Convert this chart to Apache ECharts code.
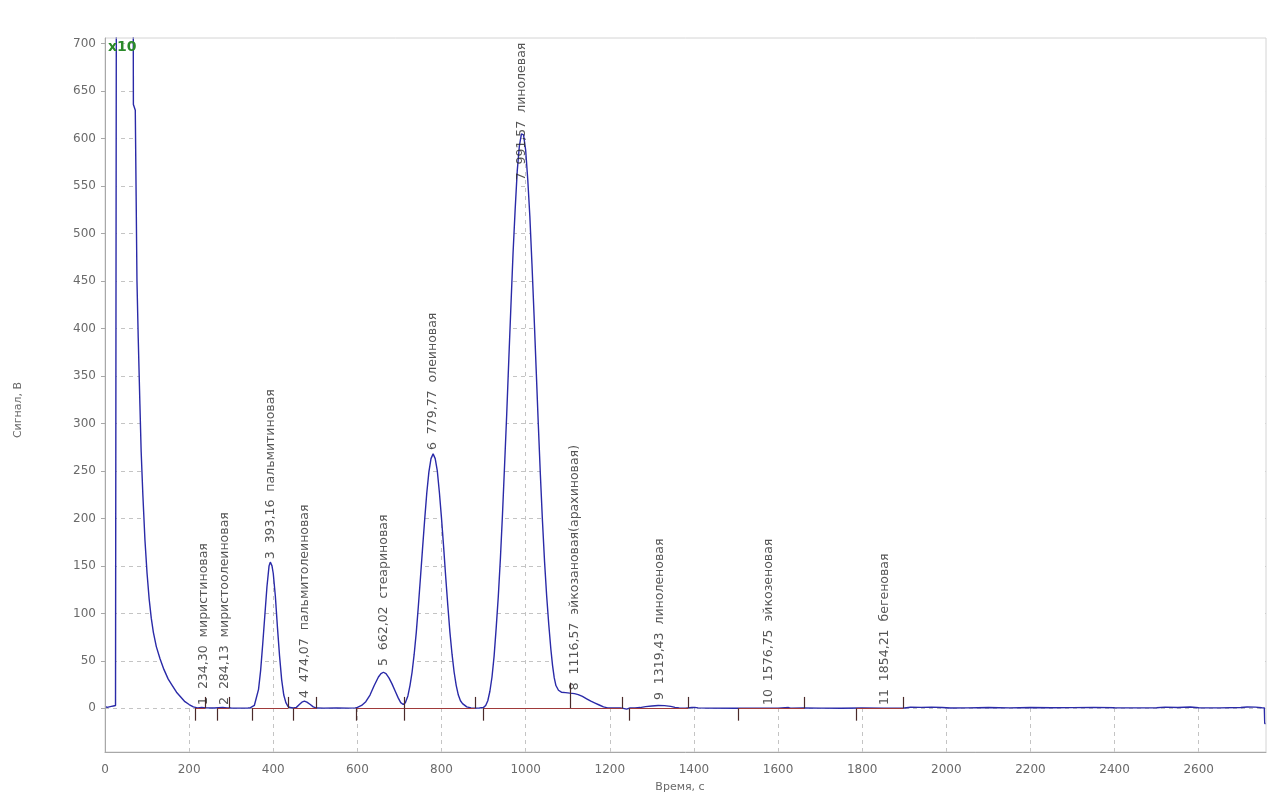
<!DOCTYPE html>
<html><head><meta charset="utf-8">
<script src="https://cdn.jsdelivr.net/npm/echarts@6/dist/echarts.min.js"></script>
<style>html,body{margin:0;padding:0;background:#fff;overflow:hidden}#c{width:1267px;height:794px}</style>
</head><body><div id="c"></div>
<script>
// ---- axis ticks ----
const xTicks = [0, 200, 400, 600, 800, 1000, 1200, 1400, 1600, 1800, 2000, 2200, 2400, 2600];
const yTicks = [0, 50, 100, 150, 200, 250, 300, 350, 400, 450, 500, 550, 600, 650, 700];

// ---- signal (time, s ; signal) ----
const solvent = [[0,2],[5,1],[10,1.5],[15,2],[20,2.5],[25,3],[26,3],[27,760],[67,760],[67.5,636],[72,630],[74,540],[76,450],[79,390],[83,320],[86,270],[90,225],[95,177],[100,142],[105,115],[110,95],[115,80],[122,65],[131,52],[140,41],[150,31],[160,24],[170,17],[180,12],[190,7],[200,4],[210,1.5],[220,0.5]];
const lowRegion = [[230,0.8],[240,0.5],[260,0.3],[280,1],[290,0.5],[300,0.3],[320,0.2],[340,0.3]];
const peak3 = [[345,0.5],[355,3],[365,20],[370,40],[375,68],[380,98],[385,128],[390,150],[393,154],[397,150],[400,142],[405,118],[410,85],[415,55],[420,30],[425,14],[430,6],[435,2],[440,0.8],[448,0.3]];
const peak4 = [[455,1],[462,4],[468,6.5],[474,7.5],[480,6.5],[488,4],[495,1.5],[503,0.3],[520,0.2],[550,0.3],[580,0.2],[595,0.5]];
const peak5 = [[600,1],[610,3],[620,7],[630,14],[640,24],[650,33],[656,36.5],[662,38],[668,36.5],[675,32],[682,26],[690,18],[697,11],[703,6],[709,4],[714,6],[720,13]];
const peak6 = [[725,24],[730,38],[735,57],[740,80],[745,108],[750,138],[755,169],[760,199],[765,227],[770,249],[775,263],[780,268],[785,263],[790,250],[795,227],[800,200],[805,170],[810,138],[815,108],[820,80],[825,57],[830,38],[835,24],[840,14],[845,8],[850,5],[860,1.5],[870,0.5],[880,0.2],[890,0.3]];
const peak7 = [[900,1],[905,3],[910,8],[915,18],[920,33],[925,55],[930,85],[935,118],[940,158],[945,205],[950,257],[955,310],[960,368],[965,424],[970,479],[975,525],[980,566],[985,592],[990,605],[992,607],[995,604],[1000,588],[1005,557],[1010,518],[1015,468],[1020,414],[1025,357],[1030,300],[1035,246],[1040,197],[1045,154],[1050,118],[1055,88],[1060,62],[1064,45],[1068,32],[1072,24],[1078,19],[1085,17],[1095,16.5],[1105,16],[1116,15.5],[1125,14.5],[1135,12.5],[1145,10],[1155,7.5],[1165,5.5],[1175,3.5],[1185,1.5],[1195,0.5]];
const tailRegion = [[1210,0.3],[1225,0.5],[1232,0],[1240,-0.8],[1248,0.3],[1260,0.3],[1272,0.8],[1285,1.8],[1300,2.5],[1315,3],[1330,2.8],[1345,2],[1355,1],[1365,0.3],[1380,0.2],[1395,0.8],[1402,1],[1410,0.5],[1430,0.2],[1500,0],[1550,0.2],[1600,0.1],[1625,0.8],[1630,0.2],[1660,0.5],[1700,0.2],[1750,0],[1800,0.3],[1850,0.2],[1900,0.4],[1915,1.2],[1940,1.0],[1965,1.3],[1990,0.8],[2010,0.3],[2050,0.5],[2100,0.8],[2150,0.5],[2200,0.9],[2250,0.6],[2300,0.7],[2350,1],[2400,0.6],[2450,0.5],[2500,0.6],[2520,1.3],[2550,0.9],[2580,1.4],[2600,0.6],[2650,0.5],[2700,0.9],[2715,1.4],[2735,1.3],[2750,0.6],[2756,0.5],[2757,-16],[2760,-16]];

// ---- peaks ----
const peakNums = ['1','2','3','4','5','6','7','8','9','10','11'];
const peakTimes = [234.30, 284.13, 393.16, 474.07, 662.02, 779.77, 991.57, 1116.57, 1319.43, 1576.75, 1854.21];
const timeLabels = ['234,30','284,13','393,16','474,07','662,02','779,77','991,57','1116,57','1319,43','1576,75','1854,21'];
const peakNames = ['миристиновая','миристоолеиновая','пальмитиновая','пальмитолеиновая','стеариновая','олеиновая','линолевая','эйкозановая(арахиновая)','линоленовая','эйкозеновая','бегеновая'];
const labelY = [3.5, 3.5, 157, 11, 44.5, 272, 556, 19, 8.7, 3.5, 3.5];

// ---- integration marks ----
const baselineStart = [214, 267, 349, 448, 597, 711, 899, 1107, 1246, 1505, 1785];
const baselineEnd   = [238, 295, 436, 503, 711, 879, 1107, 1230, 1386, 1662, 1897];
const downTicks = [214, 267, 349, 448, 597, 711, 899, 1246, 1505, 1785];
const upTicks = [238, 295, 436, 503, 711, 879, 1230, 1386, 1662, 1897];
const dropLines = [1107];

const TICK_UP = 12, TICK_DOWN = -13, DROP_H = 27;
const FONT = 'DejaVu Sans';

const signal = [].concat(solvent, lowRegion, peak3, peak4, peak5, peak6, peak7, tailRegion);

const gridLines = yTicks.map(v => ({yAxis: v})).concat(xTicks.filter(v => v > 0).map(v => ({xAxis: v})));
const baseStyle = {color: '#a03a3a', width: 1, type: 'solid'};
const tickStyle = {color: '#4a2a2a', width: 1.2, type: 'solid'};
const baseSegs = baselineStart.map((s, i) => [{coord: [s, 0], lineStyle: baseStyle}, {coord: [baselineEnd[i], 0]}]);
const tickSegs = downTicks.map(t => [{coord: [t, 0], lineStyle: tickStyle}, {coord: [t, TICK_DOWN]}])
  .concat(upTicks.map(t => [{coord: [t, 0], lineStyle: tickStyle}, {coord: [t, TICK_UP]}]))
  .concat(dropLines.map(t => [{coord: [t, 0], lineStyle: tickStyle}, {coord: [t, DROP_H]}]));

const labelData = peakTimes.map((t, i) => ({
  value: [t, labelY[i]],
  label: {formatter: peakNums[i] + '  ' + timeLabels[i] + '  ' + peakNames[i]}
}));

const chart = echarts.init(document.getElementById('c'), null, {renderer: 'canvas'});
chart.setOption({
  animation: false,
  backgroundColor: '#fff',
  grid: {left: 105, top: 38, right: 1, bottom: 42, outerBoundsMode: 'none', containLabel: false,
    show: true, borderColor: '#d4d4d4', borderWidth: 1, z: 10, backgroundColor: 'transparent'},
  xAxis: {
    type: 'value', min: 0, max: 2760, z: 10,
    name: 'Время, с', nameLocation: 'middle', nameGap: 30,
    nameTextStyle: {fontFamily: FONT, fontSize: 11, color: '#6a6a6a', padding: [0, 11, 0, 0]},
    axisLine: {show: true, onZero: false, lineStyle: {color: '#a8a8a8'}},
    axisTick: {show: false, customValues: xTicks},
    axisLabel: {customValues: xTicks, formatter: v => String(v), fontFamily: FONT, fontSize: 12, color: '#6a6a6a', margin: 12},
    splitLine: {show: false}
  },
  yAxis: {
    type: 'value', min: -46, max: 706, z: 10,
    name: 'Сигнал, В', nameLocation: 'middle', nameGap: 81, nameRotate: 90,
    nameTextStyle: {fontFamily: FONT, fontSize: 11, color: '#6a6a6a', padding: [0, 30, 0, 0]},
    axisLine: {show: true, lineStyle: {color: '#a8a8a8'}},
    axisTick: {show: true, length: 4, customValues: yTicks, lineStyle: {color: '#a8a8a8'}},
    axisLabel: {customValues: yTicks, formatter: v => String(v), fontFamily: FONT, fontSize: 12, color: '#6a6a6a', margin: 9},
    splitLine: {show: false}
  },
  series: [
    { // grid lines
      type: 'line', z: 1, data: signal, showSymbol: false, lineStyle: {opacity: 0}, silent: true,
      markLine: {z: 1, silent: true, symbol: ['none', 'none'], label: {show: false},
        lineStyle: {color: '#c4c4c4', type: [4, 4], width: 1}, data: gridLines}
    },
    { // mask above the curve hides the grid
      type: 'line', z: 2, data: signal, showSymbol: false, silent: true,
      lineStyle: {width: 0, opacity: 0}, areaStyle: {color: '#ffffff', opacity: 1, origin: 'end'}
    },
    { // signal
      type: 'line', z: 3, data: signal, showSymbol: false, silent: true,
      lineStyle: {color: '#2a2aa8', width: 1.4}
    },
    { // integration baselines and ticks
      type: 'line', z: 4, data: [], silent: true,
      markLine: {z: 4, silent: true, symbol: ['none', 'none'], label: {show: false},
        data: baseSegs.concat(tickSegs)}
    },
    { // peak labels
      type: 'scatter', z: 5, data: labelData, symbolSize: 0, silent: true,
      label: {show: true, rotate: 90, position: [0, 0], align: 'left', verticalAlign: 'middle',
        fontFamily: FONT, fontSize: 12.5, color: '#2a2a2a'}
    }
  ],
  graphic: [{type: 'text', left: 108, top: 40, z: 20,
    style: {text: 'x10', fill: '#2b8a2b', font: 'bold 14px "DejaVu Sans"'}}]
});
</script></body></html>
